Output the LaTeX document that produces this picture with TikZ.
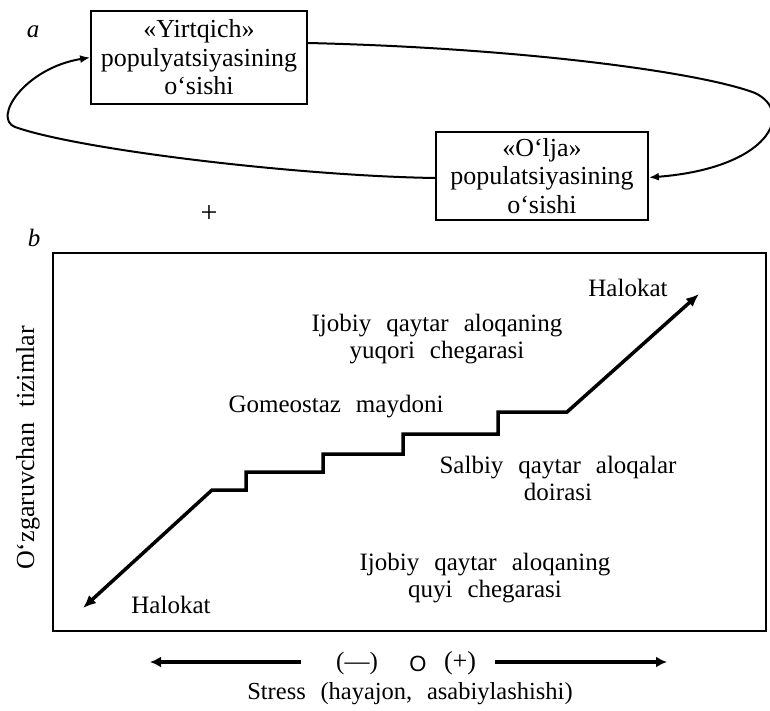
\documentclass[tikz,border=0pt]{standalone}
\usepackage{fontspec}
\setmainfont{Liberation Serif}
\newfontfamily\widefont[WordSpace=2.4]{Liberation Serif}
\newfontfamily\circfont{Liberation Sans}
\usetikzlibrary{arrows.meta}
\begin{document}
\begin{tikzpicture}[x=1pt,y=-1pt,
  txt/.style={font=\fontsize{25}{27}\widefont, inner sep=0pt, align=center},
  itxt/.style={font=\fontsize{25}{27}\selectfont\itshape, inner sep=0pt},
  box/.style={draw, line width=1.8pt, inner sep=0pt, align=center, font=\fontsize{26}{28.5}\selectfont},
  loopline/.style={line width=2pt, -{Latex[length=10pt,width=8pt]}},
  stair/.style={line width=3.5pt, {Latex[length=13pt,width=11pt]}-{Latex[length=13pt,width=11pt]}, line join=miter},
  axisarrow/.style={line width=4pt, -{Latex[length=11pt,width=11pt]}},
]
\useasboundingbox (0,0) rectangle (770,711);

% part a
\node[itxt, anchor=base] (la) at (33,38) {a};
\node[box, minimum width=216pt, minimum height=93pt] (yirt) at (199,57.5) {«Yirtqich»\\populyatsiyasining\\o‘sishi};
\node[box, minimum width=212pt, minimum height=88pt] (olja) at (542,176) {«O‘lja»\\populatsiyasining\\o‘sishi};
\draw[loopline] ([yshift=14.5pt]yirt.east) .. controls (520,48) and (700,72) .. (755,93)
   .. controls (795,112) and (770,168) .. ([yshift=-1.5pt]olja.east);
\draw[loopline] ([yshift=-2pt]olja.west) .. controls (300,176) and (80,150) .. (15,127)
   .. controls (-8,118) and (25,68) .. (yirt.west);
\node[txt, font=\fontsize{30}{32}\selectfont] (plus) at (209,214) {+};

% part b
\node[itxt, anchor=base] (lb) at (34,246) {b};
\node[draw, line width=2pt, minimum width=713pt, minimum height=378pt, inner sep=0pt] (frame) at (409.5,442) {};
\node[txt, font=\fontsize{26}{28}\widefont, rotate=90] (ylab) at (28,448) {O‘zgaruvchan tizimlar};

\coordinate (s0) at (83,608);
\coordinate (s1) at (699,294);
\draw[stair] (s0) -- (212,490) -- (246,490) -- (246,472) -- (323,472) -- (323,454)
  -- (403,454) -- (403,434) -- (498,434) -- (498,412) -- (567,412) -- (s1);

\node[txt, anchor=base] (hal1) at (628,296) {Halokat};
\node[txt] (upper) at (437,339) {Ijobiy qaytar aloqaning\\yuqori chegarasi};
\node[txt] (gomeo) at (336,407) {Gomeostaz maydoni};
\node[txt] (salb) at (558,478) {Salbiy qaytar aloqalar\\doirasi};
\node[txt] (lower) at (485,578) {Ijobiy qaytar aloqaning\\quyi chegarasi};
\node[txt, anchor=base] (hal2) at (171,613) {Halokat};

% axis below
\node[txt, anchor=base] (minus) at (357,669) {(—)};
\node[inner sep=0pt, anchor=base, font=\fontsize{22}{24}\circfont] (zero) at (418,671) {O};
\node[txt, font=\fontsize{26}{28}\selectfont, anchor=base] (plusb) at (460,669) {(+)};
\coordinate (l0) at (301,662);
\coordinate (l1) at (150,662);
\coordinate (r0) at (495,662);
\coordinate (r1) at (667,662);
\draw[axisarrow] (l0) -- (l1);
\draw[axisarrow] (r0) -- (r1);
\node[txt, font=\fontsize{24.5}{27}\widefont\frenchspacing, anchor=base] (stress) at (410,699) {Stress (hayajon, asabiylashishi)};
\end{tikzpicture}
\end{document}
